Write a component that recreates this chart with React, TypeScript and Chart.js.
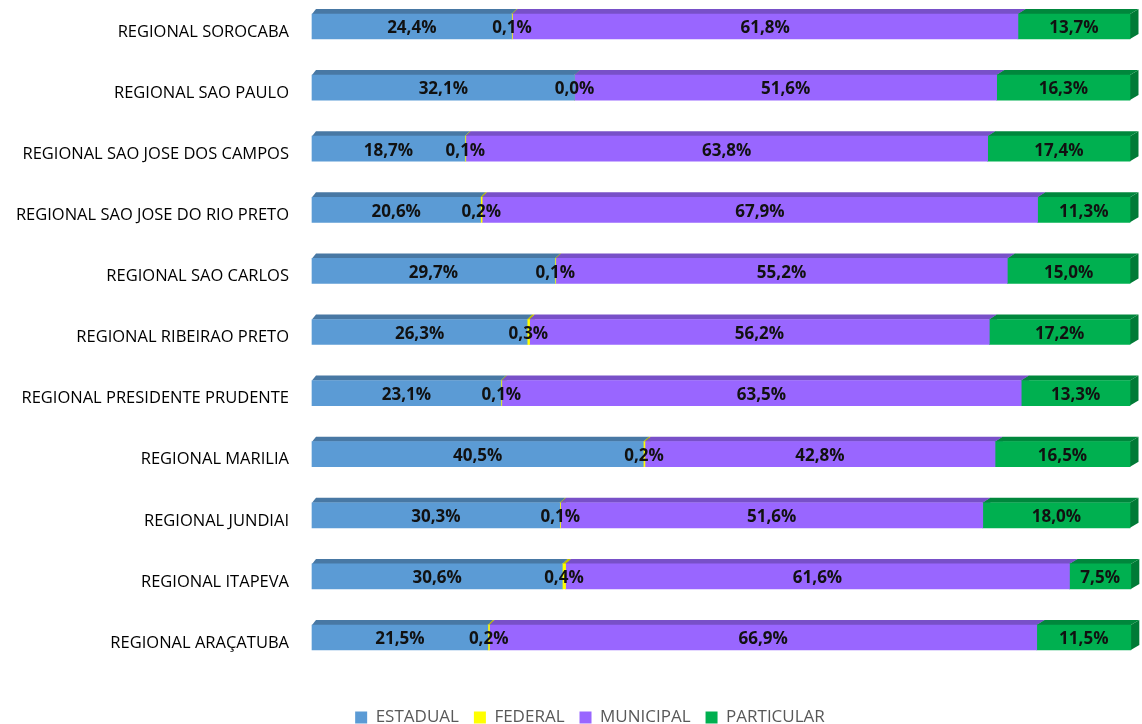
import React, { useEffect, useRef } from "react";
import { Chart, registerables } from "chart.js";
Chart.register(...registerables);

const categories = [
  "REGIONAL SOROCABA",
  "REGIONAL SAO PAULO",
  "REGIONAL SAO JOSE DOS CAMPOS",
  "REGIONAL SAO JOSE DO RIO PRETO",
  "REGIONAL SAO CARLOS",
  "REGIONAL RIBEIRAO PRETO",
  "REGIONAL PRESIDENTE PRUDENTE",
  "REGIONAL MARILIA",
  "REGIONAL JUNDIAI",
  "REGIONAL ITAPEVA",
  "REGIONAL ARAÇATUBA",
];
const estadual = [24.4, 32.1, 18.7, 20.6, 29.7, 26.3, 23.1, 40.5, 30.3, 30.6, 21.5];
const federal = [0.1, 0.0, 0.1, 0.2, 0.1, 0.3, 0.1, 0.2, 0.1, 0.4, 0.2];
const municipal = [61.8, 51.6, 63.8, 67.9, 55.2, 56.2, 63.5, 42.8, 51.6, 61.6, 66.9];
const particular = [13.7, 16.3, 17.4, 11.3, 15.0, 17.2, 13.3, 16.5, 18.0, 7.5, 11.5];
const seriesNames = ["ESTADUAL", "FEDERAL", "MUNICIPAL", "PARTICULAR"];

const frontColors = ["#5B9BD5", "#FFFF00", "#9966FF", "#00B050"];
const topColors = ["#4878A4", "#BFBF00", "#7850C8", "#00873C"];
const sideColors = ["#3A6389", "#A6A600", "#6640B0", "#007A36"];

const DX_LEFT = 4;
const DX_RIGHT = 8.5;
const DY = 5;
const LEGEND_SHIFT = 25;

function depthAt(chart: any, x: number) {
  const a = chart.chartArea;
  return DX_LEFT + ((DX_RIGHT - DX_LEFT) * (x - a.left)) / (a.right - a.left);
}

const depthPlugin = {
  id: "depth3d",
  afterLayout(chart: any) {
    const l = chart.legend;
    if (l) {
      l.left += LEGEND_SHIFT;
      l.right += LEGEND_SHIFT;
    }
  },
  beforeDatasetsDraw(chart: any) {
    const ctx = chart.ctx;
    ctx.save();
    const n = chart.data.datasets.length;
    for (let d = 0; d < n; d++) {
      const meta = chart.getDatasetMeta(d);
      meta.data.forEach((el: any) => {
        const p = el.getProps(["x", "y", "base", "height"], true);
        const right = Math.max(p.x, p.base);
        const top = p.y - p.height / 2;
        const bottom = p.y + p.height / 2;
        const dx = depthAt(chart, right);
        ctx.fillStyle = sideColors[d];
        ctx.beginPath();
        ctx.moveTo(right, top);
        ctx.lineTo(right + dx, top - DY);
        ctx.lineTo(right + dx, bottom - DY);
        ctx.lineTo(right, bottom);
        ctx.closePath();
        ctx.fill();
      });
    }
    for (let d = 0; d < n; d++) {
      const meta = chart.getDatasetMeta(d);
      meta.data.forEach((el: any) => {
        const p = el.getProps(["x", "y", "base", "height"], true);
        const left = Math.min(p.x, p.base);
        const right = Math.max(p.x, p.base);
        if (right - left <= 0) return;
        const top = p.y - p.height / 2;
        ctx.fillStyle = topColors[d];
        ctx.beginPath();
        ctx.moveTo(left, top);
        ctx.lineTo(left + depthAt(chart, left), top - DY);
        ctx.lineTo(right + depthAt(chart, right), top - DY);
        ctx.lineTo(right, top);
        ctx.closePath();
        ctx.fill();
      });
    }
    ctx.restore();
  },
};

const labelPlugin = {
  id: "valueLabels",
  afterDatasetsDraw(chart: any) {
    const ctx = chart.ctx;
    ctx.save();
    ctx.font = "bold 17px 'Open Sans'";
    ctx.fillStyle = "#111111";
    ctx.textAlign = "center";
    ctx.textBaseline = "middle";
    chart.data.datasets.forEach((ds: any, d: number) => {
      const meta = chart.getDatasetMeta(d);
      meta.data.forEach((el: any, i: number) => {
        const p = el.getProps(["x", "y", "base"], true);
        const cx = (p.x + p.base) / 2;
        const v = ds.data[i];
        const txt = v.toFixed(1).replace(".", ",") + "%";
        ctx.fillText(txt, cx, p.y + 2);
      });
    });
    ctx.restore();
  },
};

export default function App() {
  const ref = useRef<HTMLCanvasElement>(null);
  useEffect(() => {
    if (!ref.current) return;
    const all = [estadual, federal, municipal, particular];
    const chart = new Chart(ref.current, {
      type: "bar",
      data: {
        labels: categories,
        datasets: all.map((arr, i) => ({
          label: seriesNames[i],
          data: arr,
          backgroundColor: frontColors[i],
          borderWidth: 0,
          barThickness: 25,
          clip: false as any,
        })),
      },
      options: {
        indexAxis: "y",
        responsive: false,
        animation: false,
        layout: { padding: { top: 26.5, right: 12, left: 0, bottom: 0 } },
        plugins: {
          legend: {
            position: "bottom",
            labels: {
              boxWidth: 12,
              boxHeight: 12,
              padding: 15,
              color: "#595959",
              font: { family: "Open Sans", size: 17 },
            },
          },
          tooltip: { enabled: false },
        },
        scales: {
          x: {
            type: "linear",
            stacked: true,
            min: 0,
            max: 100,
            grid: { display: false, drawTicks: false },
            border: { display: false },
            ticks: { display: false },
            afterFit(s: any) {
              s.height = 56.5;
              s.paddingLeft = 0;
              s.paddingRight = 0;
            },
          },
          y: {
            type: "category",
            stacked: true,
            offset: false,
            grid: { display: false, drawTicks: false },
            border: { display: false },
            ticks: {
              padding: 23,
              labelOffset: 5.5,
              color: "#000000",
              font: { family: "Open Sans", size: 16.5 },
            },
            afterFit(s: any) {
              s.width = 312;
              s.paddingTop = 0;
              s.paddingBottom = 0;
            },
          },
        },
      },
      plugins: [depthPlugin, labelPlugin],
    });
    return () => chart.destroy();
  }, []);
  return (
    <div
      style={{
        position: "absolute",
        left: 0,
        top: 0,
        width: 1142,
        height: 724,
        overflow: "hidden",
        background: "#ffffff",
      }}
    >
      <canvas ref={ref} width={1142} height={736} style={{ display: "block" }} />
    </div>
  );
}
